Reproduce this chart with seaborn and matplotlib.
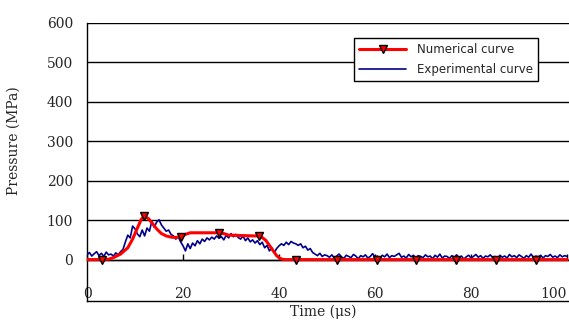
import numpy as np
import pandas as pd
import seaborn as sns
import matplotlib
matplotlib.use("Agg")
import matplotlib.pyplot as plt

# Numerical curve (control points), markers at selected samples
num_t = [0, 3.1, 4.5, 5.5, 7, 8.5, 9.5, 10.5, 11.3, 11.9, 12.8, 13.6, 14.5, 15.5, 16.5,
         17.5, 18.5, 19.5, 20.5, 21.5, 27.4, 28.5, 29.5, 35, 35.8, 36.5, 37.3, 38, 38.8,
         39.5, 40.2, 41, 43.6, 52, 60.4, 68.5, 76.9, 85.2, 93.5, 100]
num_p = [0, 0, 1, 5, 14, 30, 52, 80, 102, 110, 104, 92, 78, 66, 60,
         57, 56, 58, 64, 68, 68, 66, 62, 60, 60, 56, 48, 36, 22,
         10, 3, 0, 0, 0, 0, 0, 0, 0, 0, 0]
marker_times = [3.1, 11.9, 19.5, 27.4, 35.8, 43.6, 52, 60.4, 68.5, 76.9, 85.2, 93.5]

# Experimental curve sampled every 0.5 us from 0 to 100 us
exp_p = [12, 18, 9, 15, 20, 10, 16, 8, 19, 12,
         14, 9, 17, 12, 20, 26,
         45, 62, 55, 85, 78, 65,
         58, 75, 60, 80, 72, 97,
         82, 95, 101, 88, 80, 72,
         75, 64, 60, 52, 58, 45,
         35, 22, 40, 28, 42, 35,
         48, 40, 52, 46, 55, 50,
         57, 52, 60, 54, 58, 50,
         62, 55, 66, 58, 64, 56,
         52, 60, 48, 55, 45, 50,
         42, 48, 38, 44, 30, 36,
         22, 30, 18, 28, 35, 40,
         36, 44, 38, 46, 42, 40,
         36, 40, 30, 34, 24, 28,
         18, 14, 10, 16, 8, 12,
         10, 6, 12, 4, 9, 14, 7, 3, 11, 8,
         5, 13, 9, 2, 10, 7, 12, 4, 8, 15,
         6, 9, 3, 11, 7, 14, 5, 10, 8, 12,
         16, 6, 9, 4, 13, 7, 11, 3, 10, 8,
         5, 12, 7, 9, 2, 11, 6, 14, 4, 9,
         8, 3, 10, 6, 12, 5, 9, 1, 7, 11,
         4, 8, 13, 6, 10, 3, 9, 7, 12, 5,
         8, 2, 11, 6, 9, 4, 13, 7, 10, 5,
         12, 8, 3, 10, 6, 14, 5, 9, 7, 11,
         4, 10, 8, 13, 6, 9, 5, 12, 7, 10,
         8]
exp_t = [i * 0.5 for i in range(len(exp_p))]

x_ticks = [0, 20, 40, 60, 80, 100]
y_ticks = [0, 100, 200, 300, 400, 500, 600]

sns.set_style("white")
plt.rcParams['font.family'] = ['DejaVu Serif']

fig = plt.figure(figsize=(5.69, 3.22), dpi=100)
ax = fig.add_axes([87 / 569, 1 - 301 / 322, 1 - 87 / 569, (301 - 23) / 322])

exp_df = pd.DataFrame({"t": exp_t, "p": exp_p})
num_df = pd.DataFrame({"t": num_t, "p": num_p})
mk_idx = [num_t.index(m) for m in marker_times]

sns.lineplot(data=exp_df, x="t", y="p", ax=ax, color="#00008c", lw=1.2,
             label="Experimental curve", zorder=3, sort=False)
sns.lineplot(data=num_df, x="t", y="p", ax=ax, color="#ff0000", lw=2.2,
             marker="v", markevery=mk_idx, markersize=5.5, markerfacecolor="#ff0000",
             markeredgecolor="black", markeredgewidth=1.0,
             label="Numerical curve", zorder=4, sort=False)

ax.set_xlim(0, 100.4)
ax.set_ylim(-105, 600)
ax.set_xticks(x_ticks)
ax.set_yticks(y_ticks)
ax.set_xticklabels([str(v) for v in x_ticks])
ax.set_yticklabels([str(v) for v in y_ticks])

ax.yaxis.grid(True, color="black", lw=1.0)
ax.xaxis.grid(False)
ax.set_axisbelow(True)

for s in ax.spines.values():
    s.set_color("black")
    s.set_linewidth(1.0)
ax.spines['right'].set_visible(False)
ax.spines['bottom'].set_position(('data', 0))
ax.spines['top'].set_position(('axes', 0))

ax.tick_params(axis='x', direction='in', length=4, width=1, color='black',
               pad=20, labelsize=10, bottom=True, top=False)
ax.tick_params(axis='y', length=0, pad=10, labelsize=10)

ticks = ax.xaxis.get_major_ticks()
ticks[-1].label1.set_horizontalalignment('right')

ax.set_xlabel("Time (μs)", fontsize=10)
ax.set_ylabel("Pressure (MPa)", fontsize=10)
ax.xaxis.set_label_coords(0.49, -0.014)
ax.yaxis.set_label_coords(-0.137, 0.576)

handles, labels = ax.get_legend_handles_labels()
order = [labels.index("Numerical curve"), labels.index("Experimental curve")]
leg = ax.legend([handles[i] for i in order], [labels[i] for i in order],
                loc="upper right", bbox_to_anchor=(0.936, 0.946), borderaxespad=0,
                frameon=True, fancybox=False, edgecolor="black", framealpha=1,
                prop={'family': 'DejaVu Sans', 'size': 8.5}, handlelength=4.0,
                labelspacing=0.55, borderpad=0.45, handletextpad=0.9)
leg.get_frame().set_linewidth(1.0)
leg.set_zorder(10)

fig.savefig("out.png", dpi=100)
